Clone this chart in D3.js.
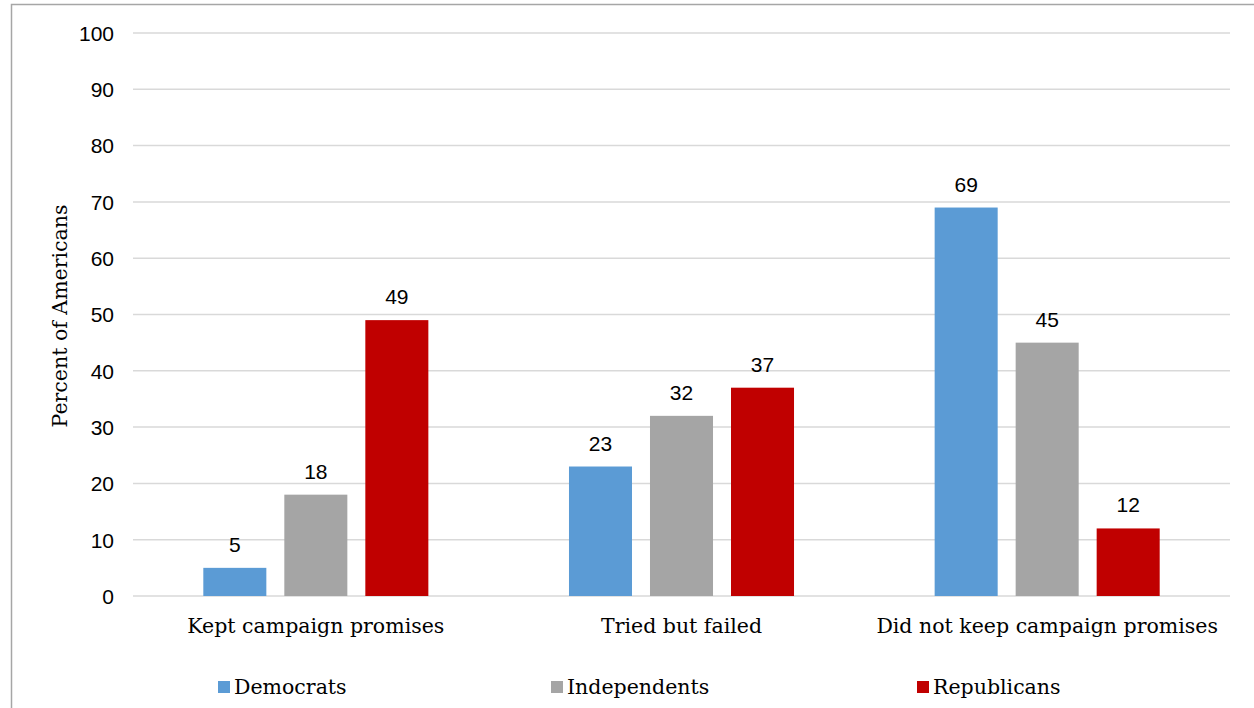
<!DOCTYPE html>
<html>
<head>
<meta charset="utf-8">
<script src="https://cdn.jsdelivr.net/npm/d3@7"></script>
<style>
  html, body { margin: 0; padding: 0; background: #fff; }
  svg { display: block; }
</style>
</head>
<body>
<svg id="chart" width="1254" height="708"></svg>
<script>
// Survey data: how each party views whether campaign promises were kept
const categories = ["Kept campaign promises", "Tried but failed", "Did not keep campaign promises"];
const seriesNames = ["Democrats", "Independents", "Republicans"];
const democrats = [5, 23, 69];
const independents = [18, 32, 45];
const republicans = [49, 37, 12];
const yTicks = [0, 10, 20, 30, 40, 50, 60, 70, 80, 90, 100];
const colors = ["#5b9bd5", "#a5a5a5", "#c00000"];

const seriesValues = [democrats, independents, republicans];

const svg = d3.select("#chart");
const serif = "'DejaVu Serif', serif";
const sans = "'Liberation Sans', Arial, sans-serif";

// outer frame
svg.append("rect")
  .attr("x", 11.5).attr("y", 4.5)
  .attr("width", 1254).attr("height", 720)
  .attr("fill", "#fff")
  .attr("stroke", "#a6a6a6")
  .attr("stroke-width", 1.5);

const plot = { left: 133, right: 1230, top: 33, bottom: 596 };

const y = d3.scaleLinear().domain([0, 100]).range([plot.bottom, plot.top]);
const x0 = d3.scaleBand().domain(categories).range([plot.left, plot.right]).padding(0);
const x1 = d3.scaleBand().domain(seriesNames).range([0, x0.bandwidth()])
  .paddingInner(0.222).paddingOuter(0.868);

// horizontal gridlines
svg.append("g").selectAll("line")
  .data(yTicks)
  .join("line")
  .attr("x1", plot.left).attr("x2", plot.right)
  .attr("y1", d => y(d)).attr("y2", d => y(d))
  .attr("stroke", "#d9d9d9")
  .attr("stroke-width", 1.5);

// y axis tick labels
const yAxis = d3.axisLeft(y).tickValues(yTicks).tickSize(0).tickPadding(0);
const yg = svg.append("g").attr("transform", `translate(${plot.left - 19},0)`).call(yAxis);
yg.select(".domain").remove();
yg.selectAll("text")
  .attr("font-family", sans)
  .attr("font-size", 21)
  .attr("fill", "#000")
  .attr("dy", "0.35em");

// y axis title
svg.append("text")
  .attr("transform", `translate(67,316) rotate(-90)`)
  .attr("text-anchor", "middle")
  .attr("font-family", serif)
  .attr("font-size", 20.5)
  .attr("fill", "#000")
  .text("Percent of Americans");

// bars grouped by category
const groups = svg.append("g").selectAll("g")
  .data(categories.map((c, i) => ({ category: c, i })))
  .join("g")
  .attr("transform", d => `translate(${x0(d.category)},0)`);

const barData = d => seriesNames.map((s, k) => ({ series: s, k, value: seriesValues[k][d.i] }));

groups.selectAll("rect")
  .data(barData)
  .join("rect")
  .attr("x", d => x1(d.series))
  .attr("width", x1.bandwidth())
  .attr("y", d => y(d.value))
  .attr("height", d => y(0) - y(d.value))
  .attr("fill", d => colors[d.k]);

// value labels above bars
groups.selectAll("text.value")
  .data(barData)
  .join("text")
  .attr("class", "value")
  .attr("x", d => x1(d.series) + x1.bandwidth() / 2)
  .attr("y", d => y(d.value) - 16)
  .attr("text-anchor", "middle")
  .attr("font-family", sans)
  .attr("font-size", 21)
  .attr("fill", "#000")
  .text(d => d.value);

// category labels
svg.append("g").selectAll("text")
  .data(categories)
  .join("text")
  .attr("x", d => x0(d) + x0.bandwidth() / 2)
  .attr("y", 633)
  .attr("text-anchor", "middle")
  .attr("font-family", serif)
  .attr("font-size", 20.5)
  .attr("fill", "#000")
  .text(d => d);

// legend
const legendX = [218, 551, 917];
const legend = svg.append("g").selectAll("g")
  .data(seriesNames)
  .join("g")
  .attr("transform", (d, i) => `translate(${legendX[i]},681)`);
legend.append("rect")
  .attr("width", 12).attr("height", 12)
  .attr("fill", (d, i) => colors[i]);
legend.append("text")
  .attr("x", 16).attr("y", 13)
  .attr("font-family", serif)
  .attr("font-size", 20.5)
  .attr("fill", "#000")
  .text(d => d);
</script>
</body>
</html>
